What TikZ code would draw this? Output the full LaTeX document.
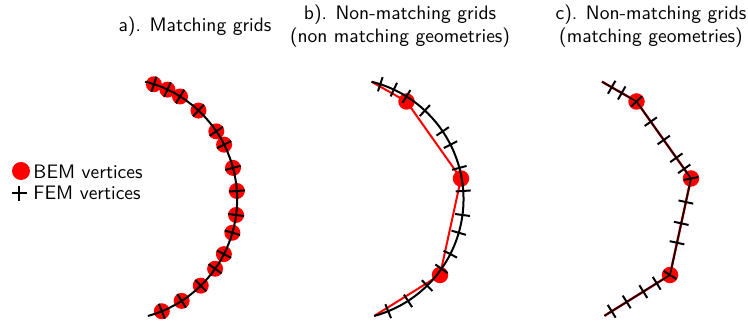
\documentclass[tikz,border=0pt]{standalone}
\usepackage{fontspec}
\setsansfont{lmsans10-regular.otf}
\usetikzlibrary{calc}
\tikzset{
  wire/.style={line width=2pt, black},
  redwire/.style={line width=2pt, red},
  bemdot/.style={circle, fill=red, draw=none, inner sep=0pt, minimum size=16.5pt},
  femtick/.style={line width=2pt, black},
  lbl/.style={font=\sffamily\fontsize{19.5}{23}\selectfont, inner sep=0pt}
}
\begin{document}
\begin{tikzpicture}[x=1pt,y=1pt]
\useasboundingbox (0,0) rectangle (748,323);

% titles
\node[lbl, anchor=base] (ta)  at (195,291) {a). Matching grids};
\node[lbl, anchor=base] (tb1) at (400,303) {b). Non-matching grids};
\node[lbl, anchor=base] (tb2) at (400,280) {(non matching geometries)};
\node[lbl, anchor=base] (tc1) at (651,303) {c). Non-matching grids};
\node[lbl, anchor=base] (tc2) at (651,280) {(matching geometries)};

% legend
\node[bemdot, minimum size=18pt] (ldot) at (21,152) {};
\node[lbl, anchor=base west] (lbem) at (33.3,144.7) {BEM vertices};
\coordinate (lfem) at (19.2,129.7);
\draw[femtick] ($(lfem)+(-7.5,0)$) -- ($(lfem)+(7.5,0)$)
               ($(lfem)+(0,-7.5)$) -- ($(lfem)+(0,7.5)$);
\node[lbl, anchor=base west] (lfemt) at (33.3,123) {FEM vertices};

% panel a
\coordinate (ca) at (116.1,123.8);
\draw[wire] ($(ca)+(76.1:121)$) arc[start angle=76.1, end angle=-74.8, radius=121];
\foreach \t in {71.8,64.9,58.1,47.1,34.1,26.8,15.0,3.9,-7.5,-16.1,-27,-35.1,-45.6,-57.2,-67.8} {
  \begin{scope}[shift={(ca)}, rotate=\t]
    \node[bemdot, minimum size=16pt] at (121,0) {};
    \draw[femtick] (113,0) -- (129,0) (121,-8) -- (121,8);
  \end{scope}
}

% panel b
\coordinate (cb) at (342.5,123.8);
\coordinate (pb0) at ($(cb)+(76.1:121)$);
\coordinate (pb4) at ($(cb)+(-74.8:121)$);
\coordinate (db1) at (406.5,221.5);
\coordinate (db2) at (461,144.5);
\coordinate (db3) at (440,48);
\draw[redwire] (pb0) -- (db1) -- (db2) -- (db3) -- (pb4);
\node[bemdot] (Db1) at (db1) {};
\node[bemdot] (Db2) at (db2) {};
\node[bemdot] (Db3) at (db3) {};
\draw[wire] (pb0) arc[start angle=76.1, end angle=-74.8, radius=121];
\foreach \t in {71.8,64.9,58.1,47.1,34.1,26.8,15.0,3.9,-7.5,-16.1,-27,-35.1,-45.6,-57.2,-67.8} {
  \begin{scope}[shift={(cb)}, rotate=\t]
    \draw[femtick] (113.5,0) -- (128.5,0);
  \end{scope}
}

% panel c
\coordinate (pc0) at (602,241.3);
\coordinate (dc1) at (636.5,221.5);
\coordinate (dc2) at (691,144.5);
\coordinate (dc3) at (670,48);
\coordinate (pc4) at (604.5,7.2);
\node[bemdot] (Dc1) at (dc1) {};
\node[bemdot] (Dc2) at (dc2) {};
\node[bemdot] (Dc3) at (dc3) {};
\draw[redwire, line width=2.4pt] (pc0) -- (dc1) -- (dc2) -- (dc3) -- (pc4);
\draw[wire, line width=1.6pt] (pc0) -- (dc1) -- (dc2) -- (dc3) -- (pc4);
\path (pc0) -- (dc1) coordinate[pos=0.281] (t1) coordinate[pos=0.571] (t2);
\path (dc1) -- (dc2) coordinate[pos=0.262] (t4) coordinate[pos=0.5] (t5)
                     coordinate[pos=0.731] (t6) coordinate[pos=0.875] (t7);
\path (dc2) -- (dc3) coordinate[pos=0.244] (t9) coordinate[pos=0.465] (t10)
                     coordinate[pos=0.666] (t11);
\path (dc3) -- (pc4) coordinate[pos=0.203] (t13) coordinate[pos=0.407] (t14)
                     coordinate[pos=0.661] (t15) coordinate[pos=0.89] (t16);
\coordinate (u1) at ($(dc1)+(dc2)-(pc0)$);
\coordinate (u2) at ($(dc2)+(dc3)-(dc1)$);
\coordinate (u3) at ($(dc3)+(pc4)-(dc2)$);
\foreach \p/\q in {t1/dc1,t2/dc1,dc1/u1,t4/dc2,t5/dc2,t6/dc2,t7/dc2,dc2/u2,
                   t9/dc3,t10/dc3,t11/dc3,dc3/u3,t13/pc4,t14/pc4,t15/pc4,t16/pc4} {
  \draw[femtick] ($(\p)!7.5pt!90:(\q)$) -- ($(\p)!7.5pt!-90:(\q)$);
}
\end{tikzpicture}
\end{document}
